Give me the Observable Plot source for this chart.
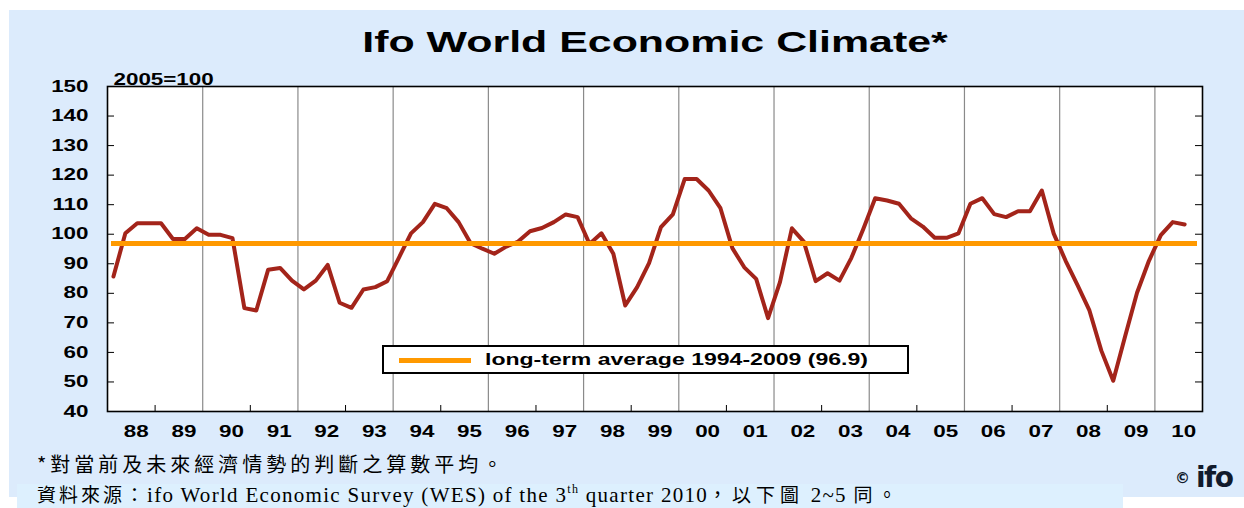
<!DOCTYPE html>
<html><head><meta charset="utf-8">
<script src="https://cdn.jsdelivr.net/npm/d3@7"></script>
<script src="https://cdn.jsdelivr.net/npm/@observablehq/plot@0.6"></script>
<style>
html,body{margin:0;padding:0;background:#fff;}
#wrap{position:relative;width:1244px;height:508px;overflow:hidden;background:#fff;font-family:"Liberation Sans",Arial,sans-serif;}
#panel{position:absolute;left:9px;top:10px;width:1235px;height:487px;background:#dcebfc;}
#notebox{position:absolute;left:17px;top:484px;width:1106px;height:24px;background:#ddf0fe;}
#title{position:absolute;left:0;top:27px;width:1310px;text-align:center;font-weight:bold;font-size:30px;line-height:30px;color:#000;transform:scaleX(1.43);transform-origin:655px 0;white-space:nowrap;}
#chart{position:absolute;left:0;top:60px;}
#legend{position:absolute;left:382px;top:345px;width:527px;height:29px;box-sizing:border-box;border:2px solid #000;background:#fff;}
#legend .swatch{position:absolute;left:15px;top:11px;width:72px;height:5px;background:#ff9900;}
#legend .lab{position:absolute;left:101px;top:4px;font-weight:bold;font-size:16px;line-height:18px;transform:scaleX(1.44);transform-origin:0 0;white-space:nowrap;}
.note{position:absolute;left:37px;white-space:nowrap;color:#000;}
#note1{top:452px;font-family:"Noto Sans CJK TC",sans-serif;font-size:20px;line-height:24px;letter-spacing:4px;}
#note2{top:482px;font-size:19px;line-height:24px;}
#note2 .cjk{font-family:"Noto Sans CJK TC",sans-serif;letter-spacing:3px;}
#note2 .cjk2{font-family:"Noto Sans CJK TC",sans-serif;letter-spacing:5px;}
#note2 .lat{font-family:"Liberation Serif","Times New Roman",serif;font-size:21px;letter-spacing:1.3px;}
#note2 sup{font-size:12px;line-height:0;vertical-align:9px;}
#logo{position:absolute;left:1175px;top:461px;white-space:nowrap;color:#111a2c;}
#logo .c{font-family:"DejaVu Sans",sans-serif;font-size:15px;font-weight:bold;vertical-align:4px;}
#logo .i{font-family:"DejaVu Sans",sans-serif;font-size:28px;font-weight:bold;letter-spacing:-1.5px;margin-left:6px;}
</style></head>
<body>
<div id="wrap">
  <div id="panel"></div>
  <div id="notebox"></div>
  <div id="title"></div>
  <div id="chart"></div>
  <div id="legend"><div class="swatch"></div><div class="lab"></div></div>
  <div class="note" id="note1"></div>
  <div class="note" id="note2"></div>
  <div id="logo"><span class="c">©</span><span class="i">ifo</span></div>
</div>
<script>
// ---- data ----
const titleText = "Ifo World Economic Climate*";
const unitLabel = "2005=100";
const startYear = 1988; // first quarter of the series: 1988 Q1
// ifo World Economic Climate, quarterly, 1988 Q1 – 2010 Q3 (2005=100)
const climate = [
  85.7, 100.3, 103.7, 103.7,   // 1988
  103.7, 98.4, 98.4, 102.0,    // 1989
  99.8, 99.8, 98.7, 75.0,      // 1990
  74.2, 88.0, 88.6, 84.3,      // 1991
  81.3, 84.3, 89.6, 76.8,      // 1992
  75.1, 81.3, 82.1, 84.1,      // 1993
  92.2, 100.3, 104.1, 110.3,   // 1994
  108.8, 104.1, 97.0, 95.1,    // 1995
  93.4, 95.8, 97.5, 101.0,     // 1996
  102.1, 104.1, 106.7, 105.8,  // 1997
  96.7, 100.3, 93.4, 75.9,     // 1998
  82.1, 90.2, 102.4, 106.7,    // 1999
  118.7, 118.7, 114.8, 108.8,  // 2000
  95.3, 88.8, 84.9, 71.6,      // 2001
  83.8, 102.0, 97.5, 84.1,     // 2002
  86.8, 84.3, 92.0, 101.8,     // 2003
  112.2, 111.4, 110.3, 105.4,  // 2004
  102.6, 98.8, 98.8, 100.3,    // 2005
  110.3, 112.2, 106.8, 105.8,  // 2006
  107.8, 107.8, 114.8, 100.2,  // 2007
  91.0, 82.8, 74.2, 60.6,      // 2008
  50.4, 65.5, 80.2, 91.0,      // 2009
  99.7, 104.1, 103.3           // 2010
];
const yearLabels = ["88","89","90","91","92","93","94","95","96","97","98","99","00","01","02","03","04","05","06","07","08","09","10"];
const yTicks = [40, 50, 60, 70, 80, 90, 100, 110, 120, 130, 140, 150];
const longTermAvg = 96.9;
const legendLabel = "long-term average 1994-2009 (96.9)";
const note1 = "*對當前及未來經濟情勢的判斷之算數平均。";

// ---- build ----
const rows = climate.map((v, i) => ({t: startYear + (i + 0.5) / 4, v}));
const yearStarts = yearLabels.map((_, i) => startYear + i);
const gridYears = yearStarts.filter(y => y > startYear && (y - startYear) % 2 === 0);
const tickYears = yearStarts.filter(y => (y - startYear) % 2 === 1);
const labelPos = yearStarts.map(y => y + 0.5);

const W = 1244, H = 392, mL = 107, mR = 42, mT = 26, mB = 41;
const fw = W - mL - mR, fh = H - mT - mB;

const plot = Plot.plot({
  width: W, height: H,
  marginLeft: mL, marginRight: mR, marginTop: mT, marginBottom: mB,
  style: {background: "transparent", fontFamily: "'Liberation Sans', Arial, sans-serif", fontSize: "16px", fontWeight: "bold", color: "#000", overflow: "visible"},
  x: {domain: [startYear, startYear + yearLabels.length], label: null},
  y: {domain: [yTicks[0], yTicks[yTicks.length - 1]], label: null},
  marks: [
    Plot.frame({fill: "#fff", stroke: "none"}),
    Plot.ruleX(gridYears, {x: d => d, stroke: "#8a8a8a", strokeWidth: 1.2}),
    Plot.tickY(yTicks.slice(1, -1), {y: d => d, insetRight: fw - 7, stroke: "#000", strokeWidth: 1}),
    Plot.tickY(yTicks.slice(1, -1), {y: d => d, insetLeft: fw - 7, stroke: "#000", strokeWidth: 1}),
    Plot.tickX(tickYears, {x: d => d, insetTop: fh - 6, stroke: "#000", strokeWidth: 1}),
    Plot.line(rows, {x: "t", y: "v", stroke: "#a3241a", strokeWidth: 4, strokeLinejoin: "round", strokeLinecap: "round"}),
    Plot.ruleY([longTermAvg], {y: d => d, stroke: "#ff9900", strokeWidth: 5, insetLeft: 4, insetRight: 5}),
    Plot.frame({stroke: "#000", strokeWidth: 1.6}),
    Plot.axisY({ticks: yTicks, tickSize: 0, tickPadding: 19, label: null, fontSize: 16, fontWeight: "bold"}),
    Plot.axisX({ticks: labelPos, tickFormat: d => yearLabels[Math.round(d - 0.5 - startYear)], tickSize: 0, tickPadding: 14, dx: 5, label: null, fontSize: 16, fontWeight: "bold"}),
    Plot.text([unitLabel], {text: d => d, frameAnchor: "top-left", textAnchor: "start", lineAnchor: "bottom", dx: 6, dy: -2, fontSize: 16, fontWeight: "bold"})
  ]
});

// stretch the svg texts horizontally, as in the original (wide) chart
plot.querySelectorAll("text").forEach(t => {
  const tr = t.getAttribute("transform");
  const x = parseFloat(t.getAttribute("x")) || 0;
  t.setAttribute("transform", (tr ? tr + " " : "") + `translate(${x},0) scale(1.4,1) translate(${-x},0)`);
});
document.getElementById("chart").appendChild(plot);

document.getElementById("title").textContent = titleText;
document.querySelector("#legend .lab").textContent = legendLabel;
document.getElementById("note1").textContent = note1;
document.getElementById("note2").innerHTML =
  '<span class="cjk">資料來源：</span><span class="lat">ifo World Economic Survey (WES) of the 3<sup>th</sup> quarter 2010</span><span class="cjk2">，以下圖</span><span class="lat"> 2~5 </span><span class="cjk2">同。</span>';
</script>
</body></html>
